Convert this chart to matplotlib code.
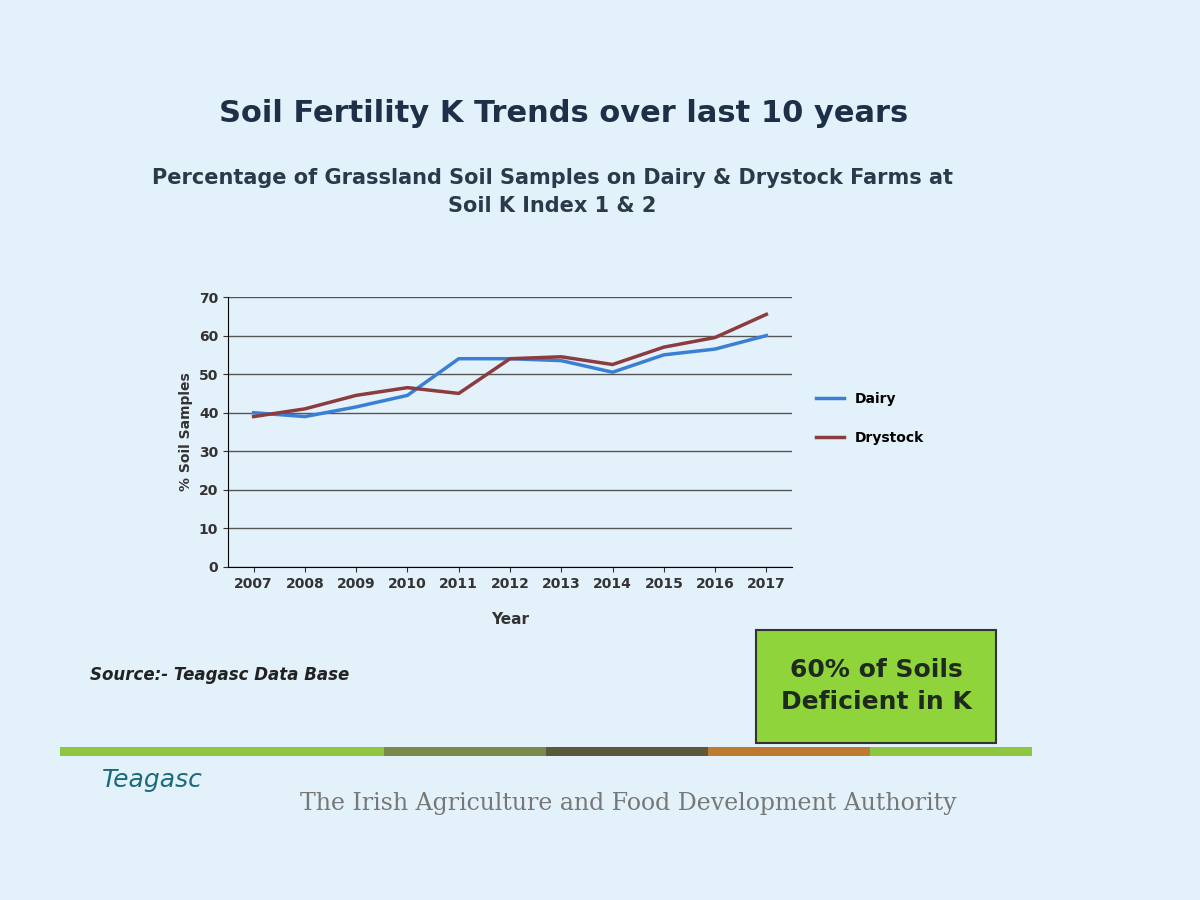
import matplotlib.pyplot as plt
import matplotlib.patches as mpatches

years = ['2007','2008','2009','2010','2011','2012','2013','2014','2015','2016','2017']
dairy = [40, 39, 41.5, 44.5, 54, 54, 53.5, 50.5, 55, 56.5, 60]
drystock = [39, 41, 44.5, 46.5, 45, 54, 54.5, 52.5, 57, 59.5, 65.5]

bg = '#e3f1fb'
fig = plt.figure(figsize=(12, 9), dpi=100, facecolor=bg)
fig.text(0.47, 0.865, 'Soil Fertility K Trends over last 10 years', ha='center',
         fontsize=22, fontweight='bold', color='#1e3048')
fig.text(0.46, 0.765, 'Percentage of Grassland Soil Samples on Dairy & Drystock Farms at\nSoil K Index 1 & 2',
         ha='center', fontsize=15, fontweight='bold', color='#2a3a4a', linespacing=1.5)

ax = fig.add_axes([0.19, 0.37, 0.47, 0.30], facecolor=bg)
x = list(range(len(years)))
ax.plot(x, dairy, color='#3b7fd4', lw=2.5, label='Dairy')
ax.plot(x, drystock, color='#8c3b3e', lw=2.5, label='Drystock')
ax.set_ylim(0, 70)
ax.set_yticks(range(0, 71, 10))
ax.set_xlim(-0.5, 10.5)
ax.set_xticks(x)
ax.set_xticklabels(years)
ax.grid(axis='y', color='#555555', lw=1)
for s in ['top', 'right']:
    ax.spines[s].set_visible(False)
ax.tick_params(labelsize=10, colors='#333333')
for t in ax.get_xticklabels() + ax.get_yticklabels():
    t.set_fontweight('bold')
ax.set_xlabel('Year', fontsize=11, fontweight='bold', color='#333333', labelpad=15)
ax.set_ylabel('% Soil Samples', fontsize=10, fontweight='bold', color='#333333')
leg = ax.legend(loc='center left', bbox_to_anchor=(1.02, 0.55), frameon=False,
                prop={'weight': 'bold', 'size': 10}, labelspacing=1.8)

fig.text(0.075, 0.245, 'Source:- Teagasc Data Base', fontsize=12, fontweight='bold',
         style='italic', color='#222222')
fig.patches.append(mpatches.Rectangle((0.63, 0.175), 0.2, 0.125, transform=fig.transFigure,
                                      facecolor='#8fd43a', edgecolor='#333333', lw=1.5))
fig.text(0.73, 0.2375, '60% of Soils\nDeficient in K', ha='center', va='center',
         fontsize=18, fontweight='bold', color='#1e2a1e', linespacing=1.4)
cols = ['#8dc63f', '#8dc63f', '#7a8a4a', '#5a5a3a', '#c07a30', '#8dc63f']
for i, c in enumerate(cols):
    fig.patches.append(mpatches.Rectangle((0.05 + i * 0.135, 0.16), 0.135, 0.01,
                                          transform=fig.transFigure, facecolor=c, lw=0))
fig.text(0.085, 0.125, 'Teagasc', fontsize=18, color='#1a6a7a', style='italic')
fig.text(0.25, 0.10, 'The Irish Agriculture and Food Development Authority',
         fontsize=17, family='DejaVu Serif', color='#777777')
fig.savefig('out.png', facecolor=bg)
